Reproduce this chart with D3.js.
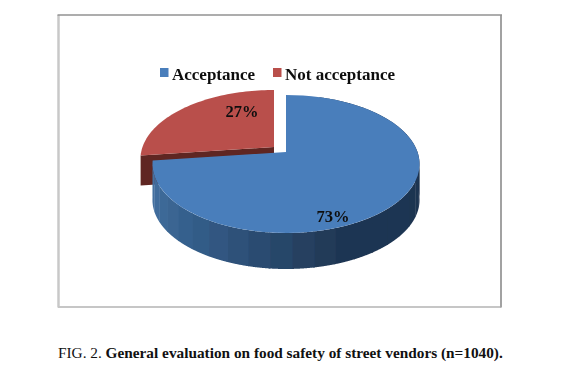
<!DOCTYPE html>
<html lang="en">
<head>
<meta charset="UTF-8" />
<title>General evaluation on food safety of street vendors</title>
<script src="https://d3js.org/d3.v7.min.js"></script>
<style>
  html, body { margin: 0; padding: 0; background: #fff; }
  svg { display: block; }
  text { font-family: "Liberation Serif", serif; }
</style>
</head>
<body>
<svg width="584" height="371"></svg>
<script>
// data
const categories = ["Acceptance", "Not acceptance"];
const values = [73, 27];
const colors = ["#4a7ebb", "#b9504c"];
const captionPrefix = "FIG. 2. ";
const captionTitle = "General evaluation on food safety of street vendors (n=1040).";

// pie geometry
const cx = 286, cy = 152, radius = 131.5, squash = 66.9, persp = 0.174, depth = 36, redDepth = 30;
const explode = { dx: -12, dy: -5 };

const svg = d3.select("svg");

const defs = svg.append("defs");
defs.append("filter").attr("id", "soft").append("feGaussianBlur").attr("stdDeviation", 0.5);

// chart frame: each side has its own grey, like the scanned original
const frameSides = [
  { x1: 58.5, y1: 15, x2: 58.5, y2: 307.5, stroke: "#c8c8c8", w: 2.5 },
  { x1: 58, y1: 307, x2: 501, y2: 307, stroke: "#c6c6c6", w: 2 },
  { x1: 501, y1: 15, x2: 501, y2: 307.5, stroke: "#a2a2a2", w: 2 },
  { x1: 57.5, y1: 15, x2: 502, y2: 15, stroke: "#929292", w: 1.6 }
];
svg.append("g").selectAll("line")
  .data(frameSides)
  .enter()
  .append("line")
  .attr("x1", d => d.x1).attr("y1", d => d.y1)
  .attr("x2", d => d.x2).attr("y2", d => d.y2)
  .attr("stroke", d => d.stroke)
  .attr("stroke-width", d => d.w);

// tilted circle -> screen
function project(a, r = 1) {
  const u = r * Math.sin(a), v = -r * Math.cos(a), w = 1 - persp * v;
  return [cx + radius * u / w, cy + squash * v / w];
}
function arcPoints(a0, a1) {
  return d3.range(0, 61).map(i => project(a0 + (a1 - a0) * i / 60));
}

const slices = d3.pie().sort(null)(values);
const line = d3.line();
const chart = svg.append("g").attr("filter", "url(#soft)");

// red slice, pulled out of the pie
const red = slices[1];
const redG = chart.append("g").attr("transform", `translate(${explode.dx},${explode.dy})`);
const leftPt = project(red.startAngle);
redG.append("path")
  .attr("d", line([[cx, cy], leftPt, [leftPt[0], leftPt[1] + redDepth], [cx, cy + redDepth]]) + "Z")
  .attr("fill", "#5e2520");
redG.append("path")
  .attr("d", line([[cx, cy], ...arcPoints(red.startAngle, red.endAngle)]) + "Z")
  .attr("fill", colors[1]);

// blue slice: banded rim first, top on it
const blue = slices[0];
const rimColor = d3.scaleLinear()
  .domain([0.3, 2.7, 3.15, 3.6, 4.05, 4.587])
  .range(["#1e3350", "#1f3552", "#29486c", "#325a85", "#3c6896", "#4a76a8"]);
const bandStarts = d3.range(0.3, blue.endAngle, 0.14);
chart.append("g").selectAll("path")
  .data(bandStarts)
  .enter()
  .append("path")
  .attr("d", d => {
    const top = arcPoints(d, Math.min(d + 0.15, blue.endAngle));
    const bottom = top.map(p => [p[0], p[1] + depth]).reverse();
    return line(top.concat(bottom)) + "Z";
  })
  .attr("fill", d => rimColor(d));
chart.append("path")
  .attr("d", line([[cx, cy], ...arcPoints(blue.startAngle, blue.endAngle)]) + "Z")
  .attr("fill", colors[0]);

// value labels
const labelX = [333, 242], labelY = [222, 117];
const labels = svg.append("g").attr("filter", "url(#soft)");
labels.selectAll("text")
  .data(values)
  .enter()
  .append("text")
  .attr("x", (d, i) => labelX[i])
  .attr("y", (d, i) => labelY[i])
  .attr("text-anchor", "middle")
  .attr("font-size", 16.5)
  .attr("font-weight", "bold")
  .attr("fill", "#111")
  .text(d => d + "%");

// legend
const legendX = [160, 273];
const legend = svg.append("g").attr("filter", "url(#soft)")
  .selectAll("g")
  .data(categories)
  .enter()
  .append("g")
  .attr("transform", (d, i) => `translate(${legendX[i]},68)`);
legend.append("rect").attr("width", 8.5).attr("height", 9).attr("fill", (d, i) => colors[i]);
legend.append("text")
  .attr("x", 12).attr("y", 11.5)
  .attr("font-size", 17)
  .attr("font-weight", "bold")
  .attr("fill", "#111")
  .text(d => d);

// caption
const caption = svg.append("text").attr("x", 58).attr("y", 358).attr("font-size", 15.3).attr("fill", "#111");
caption.append("tspan").text(captionPrefix);
caption.append("tspan").attr("font-weight", "bold").text(captionTitle);
</script>
</body>
</html>
